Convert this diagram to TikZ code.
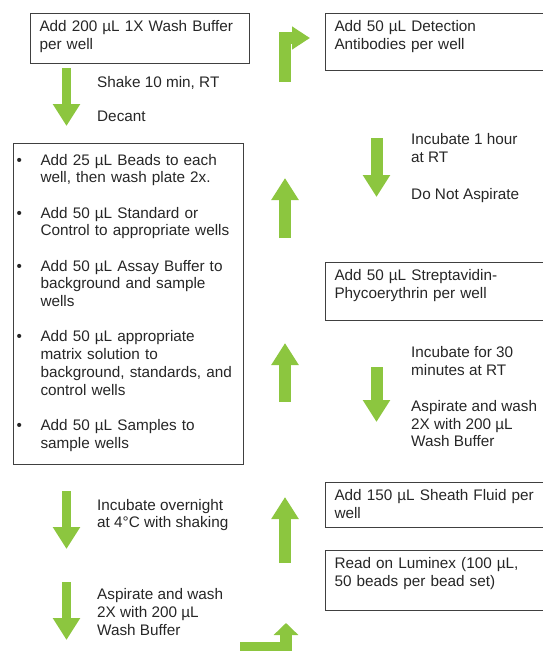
\documentclass[tikz,border=0pt]{standalone}
\usepackage{fontspec}
\setmainfont{Liberation Sans}
\usepackage{enumitem}
\usetikzlibrary{arrows.meta}
\definecolor{arrowgreen}{RGB}{140,198,63}

\begin{document}
\begin{tikzpicture}[x=1pt, y=-1pt, font=\fontsize{15.3}{17.7}\selectfont, text=black!85,
	stepbox/.style={draw=black!75, line width=1pt, anchor=north west, align=left, inner xsep=9pt, inner ysep=7pt, text width=#1},
	botpad/.style={execute at end node={\rule[-#1]{0pt}{#1}}},
	steptext/.style={anchor=north west, align=left, inner sep=0pt},
	greenarrow/.style={draw=arrowgreen, line width=12pt, -{Triangle[width=26pt,length=22pt]}},
	bentarrow/.style={draw=arrowgreen, line width=12pt, line join=miter}]
		\path[use as bounding box, clip] (0,0) rectangle (543,651);
		
		% left column
		\node[stepbox=201pt, botpad=7.2pt] (wash) at (30,13) {Add 200 µL 1X Wash Buffer\\per well};
		
		\node[steptext] (shake) at (97,76.4) {Shake 10 min, RT\\[16.3pt]Decant};
		
		\node[stepbox=218pt, inner xsep=6pt, inner ysep=4pt] (beads) at (13,143) {%
			\begin{itemize}[leftmargin=21pt, labelsep=18.5pt, itemsep=17.6pt, parsep=0pt, topsep=0pt, partopsep=0pt]
				\item Add 25 µL Beads to each\\well, then wash plate 2x.
				\item Add 50 µL Standard or\\Control to appropriate wells
				\item Add 50 µL Assay Buffer to\\background and sample\\wells
				\item Add 50 µL appropriate\\matrix solution to\\background, standards, and\\control wells
				\item Add 50 µL Samples to\\sample wells\rule[-12.5pt]{0pt}{12.5pt}
			\end{itemize}};
		
		\node[steptext] (overnight) at (97,499) {Incubate overnight\\at 4°C with shaking};
		
		\node[steptext] (rewash) at (97,588.4) {Aspirate and wash\\2X with 200 µL\\Wash Buffer};
		
		% right column
		\node[stepbox=222pt, botpad=14.2pt] (detect) at (325,13) {Add 50 µL Detection\\Antibodies per well};
		
		\node[steptext] (hour) at (411,133.4) {Incubate 1 hour\\at RT\\[19.3pt]Do Not Aspirate};
		
		\node[stepbox=222pt, botpad=15.3pt] (strep) at (325,262) {Add 50 µL Streptavidin-\\Phycoerythrin per well};
		
		\node[steptext] (thirty) at (411,346.4) {Incubate for 30\\minutes at RT\\[18.3pt]Aspirate and wash\\2X with 200 µL\\Wash Buffer};
		
		\node[stepbox=222pt, botpad=2.3pt] (sheath) at (325,482) {Add 150 µL Sheath Fluid per\\well};
		
		\node[stepbox=222pt, botpad=17.3pt] (luminex) at (325,550) {Read on Luminex (100 µL,\\50 beads per bead set)};
		
		% arrows
		\coordinate (a1) at (66.5,68);   \coordinate (a1tip) at (66.5,126);
		\coordinate (a2) at (66.5,491);  \coordinate (a2tip) at (66.5,549);
		\coordinate (a3) at (66.5,582);  \coordinate (a3tip) at (66.5,640);
		\coordinate (m1) at (285,238);   \coordinate (m1tip) at (285,178);
		\coordinate (m2) at (285,402);   \coordinate (m2tip) at (285,343);
		\coordinate (m3) at (285,563);   \coordinate (m3tip) at (285,497);
		\coordinate (r1) at (376.5,138); \coordinate (r1tip) at (376.5,197);
		\coordinate (r2) at (376.5,367); \coordinate (r2tip) at (376.5,422);
		\coordinate (b1) at (284.5,82);  \coordinate (b1tip) at (310,38);
		\coordinate (b2) at (240,648);   \coordinate (b2tip) at (286,623);
		
		\draw[greenarrow, line width=9pt] (a1) -- (a1tip);
		\draw[greenarrow, line width=9pt] (a2) -- (a2tip);
		\draw[greenarrow, line width=9pt] (a3) -- (a3tip);
		\draw[greenarrow] (m1) -- (m1tip);
		\draw[greenarrow] (m2) -- (m2tip);
		\draw[greenarrow] (m3) -- (m3tip);
		\draw[greenarrow] (r1) -- (r1tip);
		\draw[greenarrow] (r2) -- (r2tip);
		
		\draw[bentarrow, -{Triangle[width=22pt,length=18pt]}] (b1) |- (b1tip);
		\draw[bentarrow, -{Triangle[width=24pt,length=12pt]}] (b2) -| (b2tip);
		
\end{tikzpicture}
\end{document}
